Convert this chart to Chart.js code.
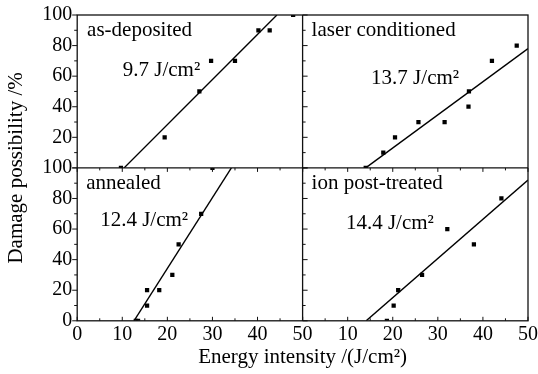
<!DOCTYPE html>
<html>
<head>
<meta charset="utf-8">
<script src="https://cdn.jsdelivr.net/npm/chart.js@4.4.0/dist/chart.umd.min.js"></script>
<style>
  html, body { margin: 0; padding: 0; background: #fff; }
</style>
</head>
<body>
<canvas id="damageChart" width="538" height="374"></canvas>
<script>
const asDepX = [9.7, 19.4, 27.1, 29.7, 35.0, 40.2, 42.7, 47.9];
const asDepY = [0, 20, 50, 70, 70, 90, 90, 100];
const laserX = [14.0, 17.9, 20.5, 25.7, 31.5, 36.8, 36.9, 42.0, 47.5];
const laserY = [0, 10, 20, 30, 30, 40, 50, 70, 80];
const annealX = [13.0, 13.5, 15.5, 15.5, 18.2, 21.1, 22.5, 27.5, 30.0];
const annealY = [0, 0, 10, 20, 20, 30, 50, 70, 100];
const ionX = [18.7, 20.2, 21.2, 26.5, 32.1, 38.0, 44.1];
const ionY = [0, 10, 20, 30, 60, 50, 80];

// fitted lines (end points)
const asDepFitX = [10.4, 44.3], asDepFitY = [0, 100];
const laserFitX = [14.0, 50], laserFitY = [0, 78];
const annealFitX = [12.6, 34.2], annealFitY = [0, 100];
const ionFitX = [14.1, 50], ionFitY = [0, 92];

const panelNames = ['as-deposited', 'laser conditioned', 'annealed', 'ion post-treated'];
const thresholds = ['9.7 J/cm²', '13.7 J/cm²', '12.4 J/cm²', '14.4 J/cm²'];

const serif = "'Liberation Serif', 'Times New Roman', serif";
Chart.defaults.font.family = serif;
Chart.defaults.font.size = 20;
Chart.defaults.color = '#000';

function pts(xs, ys) {
  return xs.map((x, i) => ({ x: x, y: ys[i] }));
}

function dots(xs, ys, xId, yId) {
  return {
    data: pts(xs, ys), xAxisID: xId, yAxisID: yId,
    pointStyle: 'rect', pointRadius: 3, pointBorderWidth: 0,
    backgroundColor: '#000', borderColor: '#000', showLine: false
  };
}

function fit(xs, ys, xId, yId) {
  return {
    data: pts(xs, ys), xAxisID: xId, yAxisID: yId,
    showLine: true, pointRadius: 0, borderColor: '#000', borderWidth: 1.4, fill: false
  };
}

function axisX(weight, hideZero) {
  return {
    type: 'linear', position: 'bottom', stack: 'energy', weight: weight,
    min: 0, max: 50,
    grid: { display: false, drawTicks: false },
    border: { display: false },
    ticks: {
      stepSize: 10, padding: 2, maxRotation: 0, autoSkip: false,
      callback: v => (hideZero && v === 0) ? '' : v
    },
    afterFit: s => { s.height = 22; s.paddingLeft = 0; s.paddingRight = 0; }
  };
}

function axisY(weight, hideZero) {
  return {
    type: 'linear', position: 'left', stack: 'damage', weight: weight,
    min: 0, max: 100,
    grid: { display: false, drawTicks: false },
    border: { display: false },
    ticks: {
      stepSize: 20, padding: 5, autoSkip: false,
      callback: v => (hideZero && v === 0) ? '' : v
    },
    afterFit: s => { s.width = 46; s.paddingTop = 0; s.paddingBottom = 0; }
  };
}

// panel order: top-left, top-right, bottom-left, bottom-right
const panelAxes = [['xL', 'yT'], ['xR', 'yT'], ['xL', 'yB'], ['xR', 'yB']];
// where the labels sit, in each panel's own units
const namePos = [[2.2, 86], [2.0, 86], [2.0, 86.5], [2.0, 86.5]];
const threshPos = [[10.1, 60], [15.2, 55], [5.1, 62], [9.6, 60]];

const framePlugin = {
  id: 'frame',
  afterDatasetsDraw(chart) {
    const ctx = chart.ctx;
    const s = chart.scales;
    const L = s.xL.left, M = s.xR.left, R = s.xR.right;
    const T = s.yT.top, H = s.yB.top, B = s.yB.bottom;

    ctx.save();
    ctx.strokeStyle = '#111';
    ctx.lineWidth = 1.3;
    const seg = (x1, y1, x2, y2) => {
      ctx.beginPath(); ctx.moveTo(x1, y1); ctx.lineTo(x2, y2); ctx.stroke();
    };
    ctx.strokeRect(L, T, R - L, B - T);
    seg(M, T, M, B);
    seg(L, H, R, H);

    ctx.lineWidth = 1;
    ['xL', 'xR'].forEach(id => {
      for (let v = 0; v <= 50; v += 5) {
        const x = s[id].getPixelForValue(v);
        const len = v % 10 === 0 ? 4 : 2.5;
        seg(x, B, x, B - len);
        seg(x, H, x, H + len);
      }
    });
    ['yT', 'yB'].forEach(id => {
      for (let v = 0; v <= 100; v += 10) {
        const y = s[id].getPixelForValue(v);
        const len = v % 20 === 0 ? 5 : 3;
        seg(L, y, L - len, y);
        seg(M, y, M + len, y);
      }
    });

    ctx.fillStyle = '#000';
    ctx.font = '21px ' + serif;
    ctx.textBaseline = 'alphabetic';
    ctx.textAlign = 'left';
    panelAxes.forEach((ax, i) => {
      const xs = s[ax[0]], ys = s[ax[1]];
      ctx.fillText(panelNames[i], xs.getPixelForValue(namePos[i][0]), ys.getPixelForValue(namePos[i][1]));
      ctx.fillText(thresholds[i], xs.getPixelForValue(threshPos[i][0]), ys.getPixelForValue(threshPos[i][1]));
    });
    ctx.restore();
  }
};

new Chart(document.getElementById('damageChart').getContext('2d'), {
  type: 'scatter',
  data: {
    datasets: [
      dots(asDepX, asDepY, 'xL', 'yT'),
      fit(asDepFitX, asDepFitY, 'xL', 'yT'),
      dots(laserX, laserY, 'xR', 'yT'),
      fit(laserFitX, laserFitY, 'xR', 'yT'),
      dots(annealX, annealY, 'xL', 'yB'),
      fit(annealFitX, annealFitY, 'xL', 'yB'),
      dots(ionX, ionY, 'xR', 'yB'),
      fit(ionFitX, ionFitY, 'xR', 'yB')
    ]
  },
  options: {
    responsive: false,
    animation: false,
    layout: { padding: { top: 15, right: 10, bottom: 2, left: 0 } },
    scales: {
      xL: axisX(0, false),
      xR: axisX(1, true),
      yT: axisY(1, true),
      yB: axisY(0, false)
    },
    plugins: {
      legend: { display: false },
      tooltip: { enabled: false },
      title: {
        display: true, text: 'Energy intensity /(J/cm²)', position: 'bottom', fullSize: false,
        padding: { top: 2, bottom: 2 }, font: { size: 21, weight: 'normal' }
      },
      subtitle: {
        display: true, text: 'Damage possibility /%', position: 'left', fullSize: false,
        padding: { top: 4, bottom: 2 }, font: { size: 21, weight: 'normal' }
      }
    }
  },
  plugins: [framePlugin]
});
</script>
</body>
</html>
